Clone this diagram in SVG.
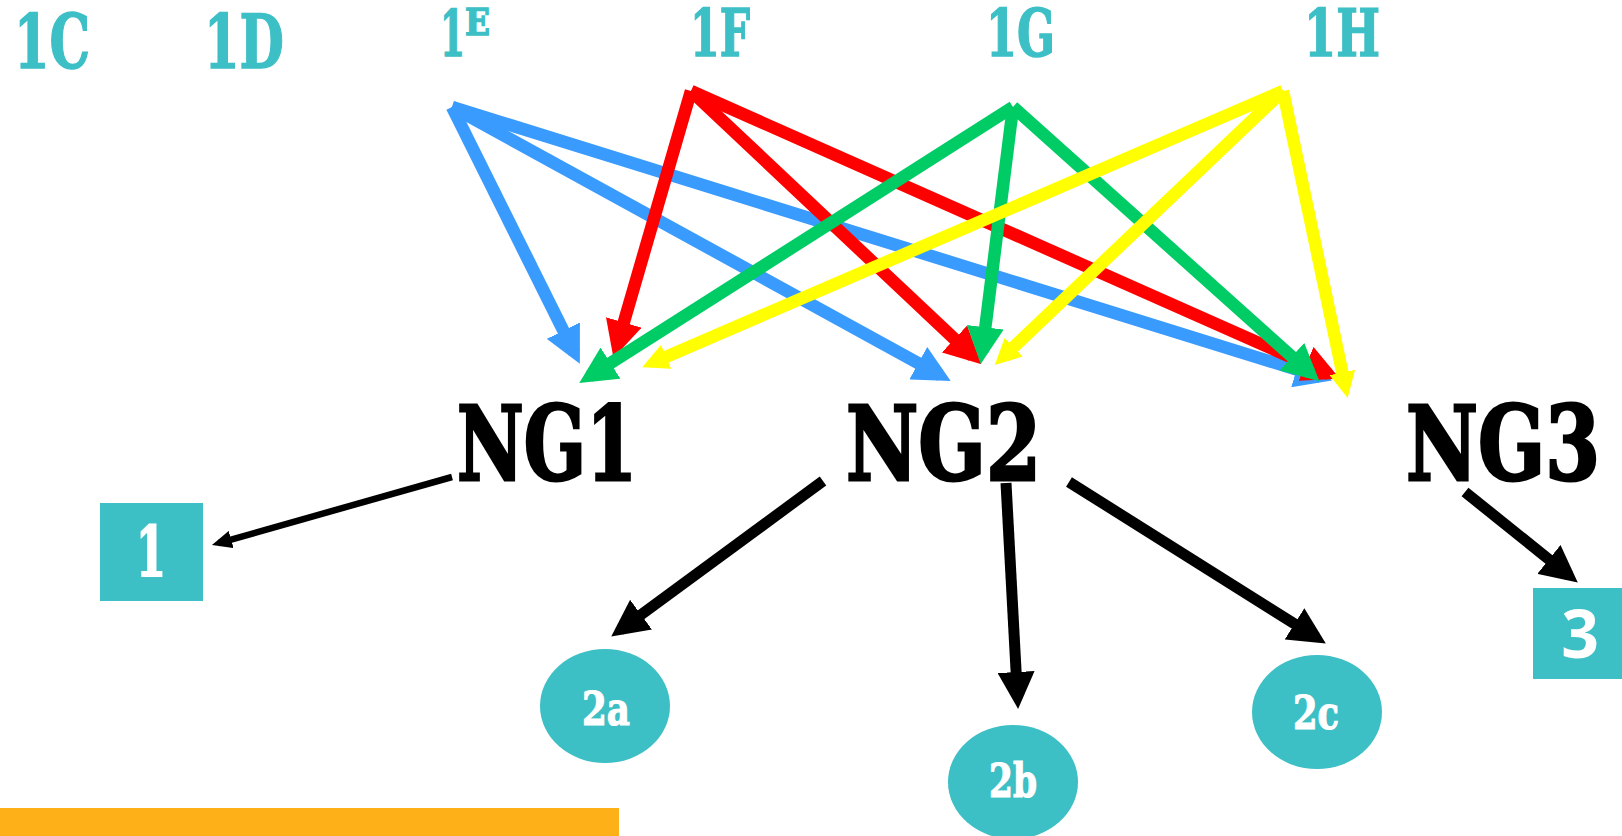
<svg xmlns="http://www.w3.org/2000/svg" width="1622" height="836" viewBox="0 0 1622 836">
<style>
.lbl{font-family:"DejaVu Serif","Liberation Serif",serif;font-weight:bold;fill:#3DBFC6;stroke:#3DBFC6;stroke-width:1.5}
.ng{font-family:"DejaVu Serif","Liberation Serif",serif;font-weight:bold;fill:#000;stroke:#000;stroke-width:3;font-size:103px}
.nt{font-family:"DejaVu Serif","Liberation Serif",serif;font-weight:bold;fill:#fff;stroke:#fff;stroke-width:1.2;text-anchor:middle}
.node{fill:#3DBFC6}
.c{fill:none;stroke-width:12.5;stroke-linecap:butt}
.k{fill:none;stroke:#000;stroke-width:11}
</style>
<defs>
<marker id="mb" viewBox="0 0 37 37" refX="25" refY="18.5" markerWidth="37" markerHeight="37" markerUnits="userSpaceOnUse" orient="auto"><path d="M0,0 L37,18.5 L0,37 Z" fill="#3A9BFF"/></marker>
<marker id="mr" viewBox="0 0 37 37" refX="25" refY="18.5" markerWidth="37" markerHeight="37" markerUnits="userSpaceOnUse" orient="auto"><path d="M0,0 L37,18.5 L0,37 Z" fill="#FF0000"/></marker>
<marker id="mg" viewBox="0 0 37 37" refX="25" refY="18.5" markerWidth="37" markerHeight="37" markerUnits="userSpaceOnUse" orient="auto"><path d="M0,0 L37,18.5 L0,37 Z" fill="#00CC66"/></marker>
<marker id="my" viewBox="0 0 26 26" refX="13" refY="13" markerWidth="26" markerHeight="26" markerUnits="userSpaceOnUse" orient="auto"><path d="M0,0 L26,13 L0,26 Z" fill="#FFFF00"/></marker>
<marker id="mk" viewBox="0 0 37 37" refX="26" refY="18.5" markerWidth="37" markerHeight="37" markerUnits="userSpaceOnUse" orient="auto"><path d="M0,0 L37,18.5 L0,37 Z" fill="#000"/></marker>
<marker id="mks" viewBox="0 0 20 18" refX="13" refY="9" markerWidth="20" markerHeight="18" markerUnits="userSpaceOnUse" orient="auto"><path d="M0,0 L20,9 L0,18 Z" fill="#000"/></marker>
</defs>

<g id="labels-top">
<text class="lbl" x="14" y="68" font-size="74" textLength="76" lengthAdjust="spacingAndGlyphs">1C</text>
<text class="lbl" x="204" y="68" font-size="74" textLength="80" lengthAdjust="spacingAndGlyphs">1D</text>
<text class="lbl" x="440" y="56" font-size="63"><tspan textLength="25" lengthAdjust="spacingAndGlyphs">1</tspan><tspan x="465" y="35" font-size="38" textLength="25" lengthAdjust="spacingAndGlyphs">E</tspan></text>
<text class="lbl" x="690" y="56" font-size="66" textLength="60" lengthAdjust="spacingAndGlyphs">1F</text>
<text class="lbl" x="986" y="56" font-size="66" textLength="69" lengthAdjust="spacingAndGlyphs">1G</text>
<text class="lbl" x="1304" y="56" font-size="66" textLength="76" lengthAdjust="spacingAndGlyphs">1H</text>
</g>

<g id="connectors">
<g stroke="#3A9BFF">
<path class="c" d="M452,107 L574.5,353" marker-end="url(#mb)"/>
<path class="c" d="M452,107 L940.2,375.2" marker-end="url(#mb)"/>
<path class="c" d="M452,107 L1320.5,377" marker-end="url(#mb)"/>
</g>
<g stroke="#FF0000">
<path class="c" d="M691,91 L616.8,346.4" marker-end="url(#mr)"/>
<path class="c" d="M691,91 L972.7,356.1" marker-end="url(#mr)"/>
<path class="c" d="M691,91 L1328.9,374" marker-end="url(#mr)"/>
</g>
<g stroke="#00CC66">
<path class="c" d="M1013,107 L589.4,376.6" marker-end="url(#mg)"/>
<path class="c" d="M1013,107 L982.2,352.1" marker-end="url(#mg)"/>
<path class="c" d="M1013,107 L1310.5,373.3" marker-end="url(#mg)"/>
</g>
<g stroke="#FFFF00">
<path class="c" d="M1283,91 L654.2,362" marker-end="url(#my)"/>
<path class="c" d="M1283,91 L1004.2,356.1" marker-end="url(#my)"/>
<path class="c" d="M1283,91 L1345,385.2" marker-end="url(#my)"/>
</g>
<path class="k" style="stroke-width:6.5" d="M452,477 L218.7,543.1" marker-end="url(#mks)"/>
<path class="k" d="M823,481 L620.1,630.1" marker-end="url(#mk)"/>
<path class="k" d="M1006,483 L1017.5,698" marker-end="url(#mk)"/>
<path class="k" d="M1069,482 L1316.5,637.7" marker-end="url(#mk)"/>
<path class="k" d="M1465,492 L1569.2,575.7" marker-end="url(#mk)"/>
</g>

<g id="NG1"><text class="ng" x="457" y="480" textLength="180" lengthAdjust="spacingAndGlyphs">NG1</text></g>
<g id="NG2"><text class="ng" x="846" y="480" textLength="195" lengthAdjust="spacingAndGlyphs">NG2</text></g>
<g id="NG3"><text class="ng" x="1406" y="480" textLength="194" lengthAdjust="spacingAndGlyphs">NG3</text></g>

<g id="node-1">
<rect class="node" x="100" y="503" width="103" height="98"/>
<text class="nt" x="151" y="576" font-size="70" textLength="30" lengthAdjust="spacingAndGlyphs" style="stroke-width:2">1</text>
</g>
<g id="node-3">
<rect class="node" x="1533" y="588" width="89" height="91"/>
<text x="1580" y="658" font-size="66" font-family="'Open Sans','DejaVu Sans',sans-serif" font-weight="bold" fill="#fff" text-anchor="middle">3</text>
</g>
<g id="node-2a">
<ellipse class="node" cx="605" cy="706" rx="65" ry="57"/>
<text class="nt" x="606" y="725" font-size="46" textLength="48" lengthAdjust="spacingAndGlyphs">2a</text>
</g>
<g id="node-2b">
<ellipse class="node" cx="1013" cy="782" rx="65" ry="57"/>
<text class="nt" x="1013" y="797" font-size="46" textLength="48" lengthAdjust="spacingAndGlyphs">2b</text>
</g>
<g id="node-2c">
<ellipse class="node" cx="1317" cy="712" rx="65" ry="57"/>
<text class="nt" x="1316" y="729" font-size="46" textLength="46" lengthAdjust="spacingAndGlyphs">2c</text>
</g>

<rect id="bar" x="0" y="808" width="619" height="28" fill="#FDB017"/>
</svg>
